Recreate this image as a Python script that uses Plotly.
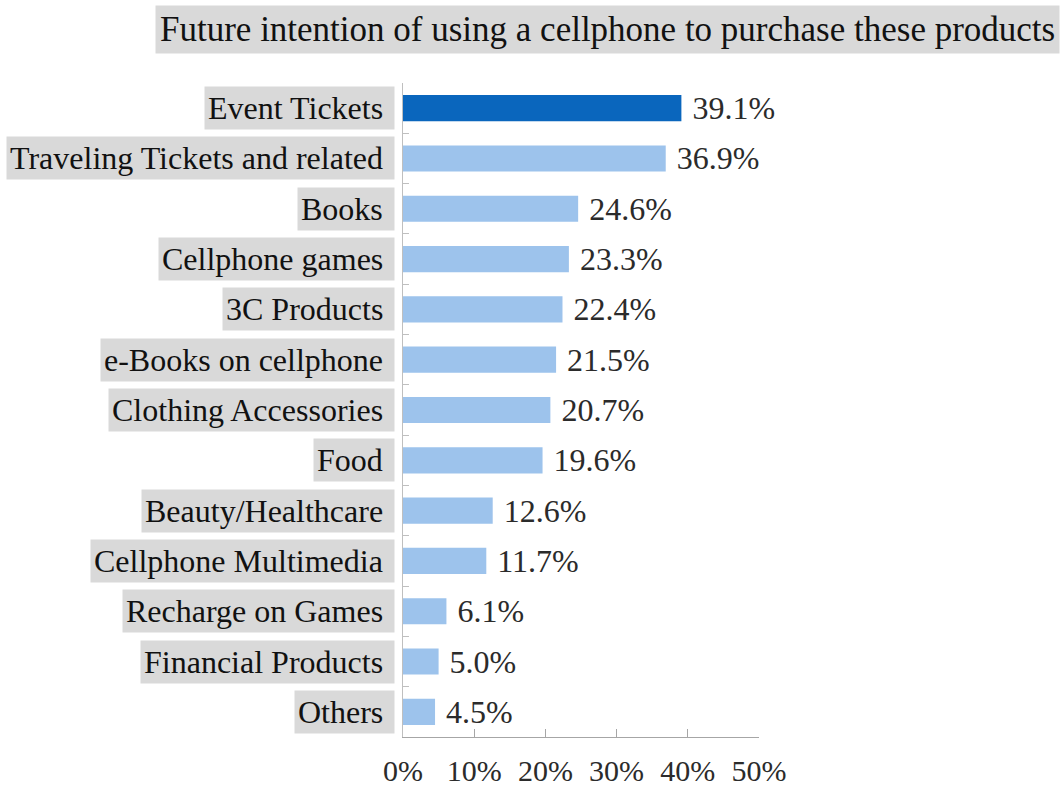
import plotly.graph_objects as go

# Share of respondents intending to buy each product category by cellphone
categories = [
    "Event Tickets",
    "Traveling Tickets and related",
    "Books",
    "Cellphone games",
    "3C Products",
    "e-Books on cellphone",
    "Clothing Accessories",
    "Food",
    "Beauty/Healthcare",
    "Cellphone Multimedia",
    "Recharge on Games",
    "Financial Products",
    "Others",
]
values = [39.1, 36.9, 24.6, 23.3, 22.4, 21.5, 20.7, 19.6, 12.6, 11.7, 6.1, 5.0, 4.5]
x_ticks = [0, 10, 20, 30, 40, 50]
x_tick_text = ["0%", "10%", "20%", "30%", "40%", "50%"]

title_text = "Future intention of using a cellphone to purchase these products"

SERIF = "Liberation Serif, Times New Roman, serif"
DARK = "#0a66bd"
LIGHT = "#9dc3ec"
TEXT = "#2b2b2b"
LABEL_BG = "#d9d9d9"

bar_colors = [DARK] + [LIGHT] * (len(values) - 1)

fig = go.Figure()
fig.add_trace(
    go.Bar(
        x=values,
        y=categories,
        orientation="h",
        width=0.52,
        marker=dict(color=bar_colors, line=dict(width=0)),
        text=values,
        texttemplate="\u00a0%{x:.1f}%",
        textposition="outside",
        constraintext="none",
        cliponaxis=False,
        textfont=dict(family=SERIF, size=32, color=TEXT),
        hoverinfo="skip",
    )
)

# Category names in grey boxes, right-aligned against the axis
annotations = []
for cat in categories:
    annotations.append(
        dict(
            xref="paper",
            yref="y",
            x=0,
            y=cat,
            xanchor="right",
            yanchor="middle",
            xshift=-8,
            text=cat + "\u00a0",
            showarrow=False,
            bgcolor=LABEL_BG,
            borderpad=3,
            height=36,
            font=dict(family=SERIF, size=32, color="#111111"),
        )
    )

# Chart heading in a grey band
annotations.append(
    dict(
        xref="paper",
        yref="paper",
        x=-0.6966,
        y=1.119,
        xanchor="left",
        yanchor="top",
        text=title_text,
        showarrow=False,
        bgcolor=LABEL_BG,
        borderpad=4,
        font=dict(family=SERIF, size=35, color="#111111"),
    )
)

fig.update_layout(
    width=1061,
    height=791,
    margin=dict(l=403, r=302, t=83, b=54, pad=0, autoexpand=False),
    paper_bgcolor="white",
    plot_bgcolor="white",
    showlegend=False,
    annotations=annotations,
    bargap=0.48,
)

fig.update_xaxes(
    range=[0, 50],
    tickmode="array",
    tickvals=x_ticks,
    ticktext=x_tick_text,
    automargin=False,
    showgrid=False,
    zeroline=False,
    showline=True,
    linecolor="#a6a6a6",
    linewidth=1,
    ticks="inside",
    ticklen=8,
    tickcolor="#a6a6a6",
    ticklabelstandoff=7,
    tickfont=dict(family=SERIF, size=30, color=TEXT),
)

fig.update_yaxes(
    categoryorder="array",
    categoryarray=categories[::-1],
    automargin=False,
    showticklabels=False,
    showgrid=False,
    zeroline=False,
    showline=True,
    linecolor="#bfbfbf",
    linewidth=1,
    ticks="inside",
    tickson="boundaries",
    ticklen=6,
    tickcolor="#bfbfbf",
)

fig.write_html("out.html")
